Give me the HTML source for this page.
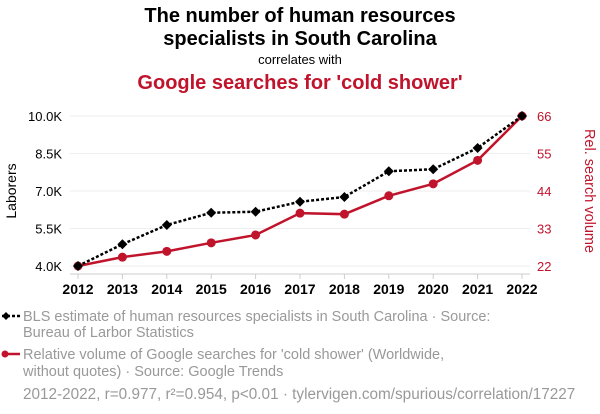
<!DOCTYPE html>
<html><head><meta charset="utf-8"><style>
body{margin:0;width:600px;height:414px;background:#fff;font-family:"Liberation Sans",sans-serif;overflow:hidden}
svg{display:block}
</style></head><body>
<svg id="chart" width="600" height="414" xmlns="http://www.w3.org/2000/svg" font-family="Liberation Sans, sans-serif">
<text x="300" y="22" text-anchor="middle" font-size="20" font-weight="bold" fill="#000">The number of human resources</text>
<text x="300" y="45" text-anchor="middle" font-size="20" font-weight="bold" fill="#000">specialists in South Carolina</text>
<text x="300" y="64" text-anchor="middle" font-size="13" fill="#000">correlates with</text>
<text x="300" y="89" text-anchor="middle" font-size="20" font-weight="bold" fill="#c0142c">Google searches for 'cold shower'</text>
<g id="grid"></g>
<g id="axes"></g>
<g id="series"></g>
<text transform="translate(16,191) rotate(-90)" text-anchor="middle" font-size="14" fill="#000">Laborers</text>
<text transform="translate(585,191) rotate(90)" text-anchor="middle" font-size="14.5" fill="#c0142c">Rel. search volume</text>
<g>
<line x1="2" y1="316" x2="20" y2="316" stroke="#000" stroke-width="2.5" stroke-dasharray="3,2"/>
<path d="M6,312 L10,316 L6,320 L2,316Z" fill="#000"/>
<text x="23" y="321" font-size="14.5" fill="#999">BLS estimate of human resources specialists in South Carolina · Source:</text>
<text x="23" y="337" font-size="14.5" fill="#999">Bureau of Larbor Statistics</text>
</g>
<g>
<line x1="4" y1="354" x2="20" y2="354" stroke="#c0142c" stroke-width="2.5"/>
<circle cx="5" cy="354" r="3.5" fill="#c0142c"/>
<text x="23" y="359" font-size="14.5" fill="#999">Relative volume of Google searches for 'cold shower' (Worldwide,</text>
<text x="23" y="376" font-size="14.5" fill="#999">without quotes) · Source: Google Trends</text>
</g>
<text x="23" y="399" font-size="15.3" fill="#999">2012-2022, r=0.977, r²=0.954, p&lt;0.01 · tylervigen.com/spurious/correlation/17227</text>
</svg>
<script>
const years=[2012,2013,2014,2015,2016,2017,2018,2019,2020,2021,2022];
const laborers=[4000,4870,5640,6130,6170,6570,6760,7790,7870,8720,10000];
const searches=[22,24.6,26.3,28.8,31.1,37.5,37.2,42.6,46.1,53.0,66];
const leftTicks=[4000,5500,7000,8500,10000];
const leftTickLabels=["4.0K","5.5K","7.0K","8.5K","10.0K"];
const rightTicks=[22,33,44,55,66];
const NS="http://www.w3.org/2000/svg";
const x=y=>78+(y-2012)*44.4;
const yL=v=>266-(v-4000)*150/6000;
const yR=v=>266-(v-22)*150/44;
function mk(tag,attrs,parent){const e=document.createElementNS(NS,tag);for(const k in attrs)e.setAttribute(k,attrs[k]);parent.appendChild(e);return e;}
const grid=document.getElementById('grid'),axes=document.getElementById('axes'),ser=document.getElementById('series');
leftTicks.forEach((t,i)=>{
 const g=mk('line',{x1:70,x2:530,y1:yL(t),y2:yL(t),stroke:'#eee','stroke-width':1},grid);
 
 
 const tx=mk('text',{x:62,y:yL(t)+5,'text-anchor':'end','font-size':13,fill:'#000'},axes);
 tx.textContent=leftTickLabels[i];
 
 
});
rightTicks.forEach(t=>{
 const tx=mk('text',{x:537,y:yR(t)+5,'font-size':13,fill:'#c0142c'},axes);
 tx.textContent=t;
 
 
});
const ax=mk('line',{x1:70,x2:530,y1:274,y2:274,stroke:'#ccc','stroke-width':1},axes);


years.forEach(yr=>{
 mk('line',{x1:x(yr),x2:x(yr),y1:274,y2:279,stroke:'#ccc'},axes);
 const tx=mk('text',{x:x(yr),y:294,'text-anchor':'middle','font-size':14,'font-weight':'bold',fill:'#000'},axes);
 tx.textContent=yr;
 
 
});
const rl=mk('polyline',{points:years.map((yr,i)=>x(yr)+','+yR(searches[i])).join(' '),fill:'none',stroke:'#c0142c','stroke-width':2.5},ser);


years.forEach((yr,i)=>{
 const c=mk('circle',{cx:x(yr),cy:yR(searches[i]),r:4.5,fill:'#c0142c'},ser);
 
 
});
const bl=mk('polyline',{points:years.map((yr,i)=>x(yr)+','+yL(laborers[i])).join(' '),fill:'none',stroke:'#000','stroke-width':2.5,'stroke-dasharray':'3,2'},ser);


years.forEach((yr,i)=>{
 const cx=x(yr),cy=yL(laborers[i]);
 const p=mk('path',{d:`M${cx},${cy-5} L${cx+5},${cy} L${cx},${cy+5} L${cx-5},${cy}Z`,fill:'#000'},ser);
 
 
});
</script>
</body></html>
